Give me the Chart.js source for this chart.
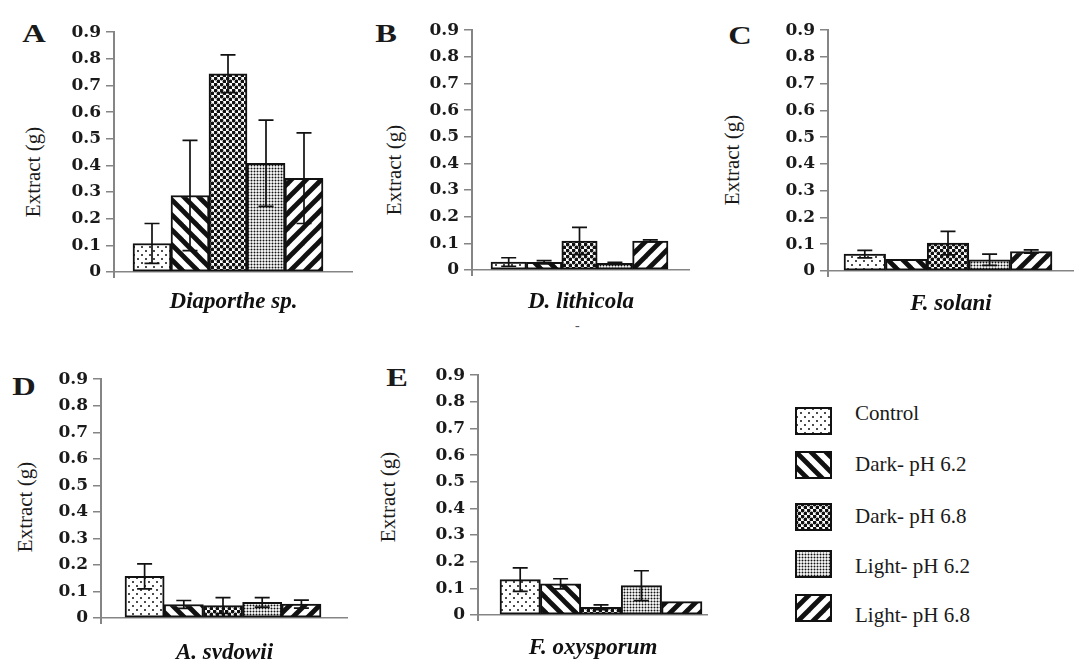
<!DOCTYPE html>
<html lang="en">
<head>
<meta charset="utf-8">
<title>Extract (g)</title>
<script src="https://cdn.jsdelivr.net/npm/chart.js@4.4.1/dist/chart.umd.min.js"></script>
<style>
  body { margin: 0; background: #fff; }
  #figura { position: relative; width: 1074px; height: 659px; overflow: hidden; font-family: "Liberation Serif", serif; color: #1a1a1a; }
  #figura canvas { position: absolute; }
  .letra { position: absolute; font-weight: bold; font-size: 25px; line-height: 1; transform: translate(-50%, -50%) scaleX(1.3); }
  .rotuloY { position: absolute; font-size: 21px; line-height: 1; white-space: nowrap; transform: translate(-50%, -50%) rotate(-90deg); }
  .textoLegenda { position: absolute; left: 855px; font-size: 21px; line-height: 21px; white-space: nowrap; }
  .traco { position: absolute; left: 575px; top: 318px; font-size: 14px; color: #555; }
</style>
</head>
<body>
<div id="figura"></div>
<script>
// Condições de cultivo e fungos
const condicoes = ['Control', 'Dark- pH 6.2', 'Dark- pH 6.8', 'Light- pH 6.2', 'Light- pH 6.8'];
const especies = ['Diaporthe sp.', 'D. lithicola', 'F. solani', 'A. sydowii', 'F. oxysporum'];
const letras = ['A', 'B', 'C', 'D', 'E'];

// Eixo Y
const ticksY = [0, 0.1, 0.2, 0.3, 0.4, 0.5, 0.6, 0.7, 0.8, 0.9];
const rotulosY = ['0', '0.1', '0.2', '0.3', '0.4', '0.5', '0.6', '0.7', '0.8', '0.9'];

// Extrato (g) e desvio de cada fungo, na ordem das condições
const extratoA = [0.107, 0.287, 0.744, 0.408, 0.352];
const erroA = [0.075, 0.207, 0.071, 0.162, 0.170];
const extratoB = [0.030, 0.029, 0.109, 0.025, 0.109];
const erroB = [0.016, 0.006, 0.051, 0.004, 0.004];
const extratoC = [0.063, 0.044, 0.104, 0.042, 0.073];
const erroC = [0.014, 0, 0.044, 0.021, 0.006];
const extratoD = [0.157, 0.051, 0.047, 0.059, 0.052];
const erroD = [0.047, 0.015, 0.030, 0.018, 0.015];
const extratoE = [0.133, 0.117, 0.029, 0.110, 0.050];
const erroE = [0.044, 0.019, 0.009, 0.056, 0];

const extratos = [extratoA, extratoB, extratoC, extratoD, extratoE];
const erros = [erroA, erroB, erroC, erroD, erroE];

// Posição de cada painel na página
const paineis = [
  { eixoX: 114, topo: 32, base: 272, barraIni: 133, barraFim: 323, eixoFim: 353, tituloY: 302, rotulo: [33, 172], letra: [34, 33] },
  { eixoX: 472, topo: 30, base: 270, barraIni: 491, barraFim: 668, eixoFim: 690, tituloY: 302, rotulo: [394, 170], letra: [386, 33] },
  { eixoX: 828, topo: 30, base: 271, barraIni: 844, barraFim: 1052, eixoFim: 1074, tituloY: 304, rotulo: [732, 160], letra: [740, 35] },
  { eixoX: 101, topo: 379, base: 618, barraIni: 125, barraFim: 321, eixoFim: 348, tituloY: 653, rotulo: [25, 507], letra: [24, 386] },
  { eixoX: 478, topo: 375, base: 615, barraIni: 500, barraFim: 702, eixoFim: 708, tituloY: 648, rotulo: [388, 497], letra: [397, 377] }
];

const LARG_Y = 50;
const PAD_TOPO = 15;
const TAM_TITULO = 23;
const FONTE_TICK = '"DejaVu Serif", serif';
const FONTE_TITULO = '"Liberation Serif", serif';
const COR_EIXO = '#858585';
const figura = document.getElementById('figura');

// Texturas das barras (pontos, listras, etc.)
function padrao(tipo) {
  const tam = { pontos: 8, listraDesc: 15, pedras: 6, pontilhado: 3, listraAsc: 15 }[tipo];
  const t = document.createElement('canvas');
  t.width = t.height = tam;
  const c = t.getContext('2d');
  c.fillStyle = '#fff';
  c.fillRect(0, 0, tam, tam);
  c.fillStyle = '#111';
  c.strokeStyle = '#111';
  const ponto = (x, y, r) => { c.beginPath(); c.arc(x, y, r, 0, Math.PI * 2); c.fill(); };
  if (tipo === 'pontos') {
    ponto(2, 2, 1); ponto(6, 6, 1);
  } else if (tipo === 'pedras') {
    ponto(1.5, 1.5, 1.9); ponto(4.5, 4.5, 1.9);
  } else if (tipo === 'pontilhado') {
    ponto(1.5, 1.5, 1);
  } else {
    c.lineWidth = 4.8;
    for (const d of [-tam, 0, tam]) {
      c.beginPath();
      if (tipo === 'listraDesc') { c.moveTo(d - 2, -2); c.lineTo(d + tam + 2, tam + 2); }
      else { c.moveTo(d - 2, tam + 2); c.lineTo(d + tam + 2, -2); }
      c.stroke();
    }
  }
  return c.createPattern(t, 'repeat');
}
const padroes = ['pontos', 'listraDesc', 'pedras', 'pontilhado', 'listraAsc'].map(padrao);

// Barras de erro (com traço em cima e embaixo)
const barrasErro = {
  id: 'barrasErro',
  afterDatasetsDraw(chart) {
    const { ctx, scales: { y } } = chart;
    chart.data.datasets.forEach((ds, d) => {
      chart.getDatasetMeta(d).data.forEach((barra, i) => {
        const e = ds.erros[i];
        if (!e) return;
        const v = ds.data[i].y;
        const yCima = y.getPixelForValue(v + e);
        const yBaixo = y.getPixelForValue(v - e);
        ctx.save();
        ctx.strokeStyle = '#111';
        ctx.lineWidth = 1.7;
        ctx.beginPath();
        ctx.moveTo(barra.x, yCima); ctx.lineTo(barra.x, yBaixo);
        ctx.moveTo(barra.x - 7.5, yCima); ctx.lineTo(barra.x + 7.5, yCima);
        ctx.moveTo(barra.x - 7.5, yBaixo); ctx.lineTo(barra.x + 7.5, yBaixo);
        ctx.stroke();
        ctx.restore();
      });
    });
  },
  afterDraw(chart) {
    // eixo Y passa um pouco abaixo do zero
    const { ctx, chartArea } = chart;
    ctx.save();
    ctx.strokeStyle = COR_EIXO;
    ctx.lineWidth = 2;
    ctx.beginPath();
    ctx.moveTo(chartArea.left, chartArea.bottom);
    ctx.lineTo(chartArea.left, chartArea.bottom + 6);
    ctx.stroke();
    ctx.restore();
  }
};

paineis.forEach((p, k) => {
  const esq = p.eixoX - LARG_Y;
  const topoCanvas = p.topo - PAD_TOPO;
  const altura = Math.round(p.tituloY + TAM_TITULO * 0.6 - topoCanvas);
  const canvas = document.createElement('canvas');
  canvas.width = p.eixoFim - esq;
  canvas.height = altura;
  canvas.style.left = esq + 'px';
  canvas.style.top = topoCanvas + 'px';
  figura.appendChild(canvas);

  const larguraBarra = (p.barraFim - p.barraIni) / condicoes.length;

  new Chart(canvas, {
    type: 'bar',
    data: {
      datasets: [{
        label: especies[k],
        data: extratos[k].map((v, i) => ({ x: i + 1, y: v })),
        erros: erros[k],
        backgroundColor: padroes,
        borderColor: '#111',
        borderWidth: 2,
        borderSkipped: false,
        barThickness: larguraBarra
      }]
    },
    options: {
      responsive: false,
      animation: false,
      layout: { padding: { top: PAD_TOPO, right: 0, bottom: 0, left: 0 } },
      plugins: { legend: { display: false }, tooltip: { enabled: false } },
      scales: {
        x: {
          type: 'linear',
          offset: false,
          min: 0.5 - (p.barraIni - p.eixoX) / larguraBarra,
          max: condicoes.length + 0.5 + (p.eixoFim - p.barraFim) / larguraBarra,
          ticks: { display: false },
          grid: { display: false },
          border: { color: COR_EIXO, width: 1.5 },
          title: {
            display: true,
            text: especies[k],
            color: '#111',
            padding: 0,
            font: { family: FONTE_TITULO, size: TAM_TITULO, weight: 'bold', style: 'italic' }
          },
          afterFit: s => { s.height = topoCanvas + altura - p.base; }
        },
        y: {
          min: 0,
          max: 0.9,
          afterBuildTicks: s => { s.ticks = ticksY.map(v => ({ value: v })); },
          ticks: {
            callback: (v, i) => rotulosY[i],
            color: '#1a1a1a',
            padding: 5,
            font: { family: FONTE_TICK, size: 17, weight: 'bold' }
          },
          grid: { drawOnChartArea: false, drawTicks: true, tickLength: 8, color: COR_EIXO, lineWidth: 1.5 },
          border: { color: COR_EIXO, width: 2 },
          afterFit: s => { s.width = LARG_Y; }
        }
      }
    },
    plugins: [barrasErro]
  });

  // letra do painel e rótulo do eixo Y
  const letra = document.createElement('div');
  letra.className = 'letra';
  letra.textContent = letras[k];
  letra.style.left = p.letra[0] + 'px';
  letra.style.top = p.letra[1] + 'px';
  figura.appendChild(letra);

  const rotulo = document.createElement('div');
  rotulo.className = 'rotuloY';
  rotulo.textContent = 'Extract (g)';
  rotulo.style.left = p.rotulo[0] + 'px';
  rotulo.style.top = p.rotulo[1] + 'px';
  figura.appendChild(rotulo);
});

// Legenda
const caixasTopo = [407, 451, 503, 550, 594];
const textosMeio = [414, 465, 517, 567, 616];
condicoes.forEach((nome, i) => {
  const caixa = document.createElement('canvas');
  caixa.width = 37;
  caixa.height = 28;
  caixa.style.left = '795px';
  caixa.style.top = caixasTopo[i] + 'px';
  const c = caixa.getContext('2d');
  c.fillStyle = padroes[i];
  c.fillRect(0, 0, 37, 28);
  c.strokeStyle = '#111';
  c.lineWidth = 2;
  c.strokeRect(1, 1, 35, 26);
  figura.appendChild(caixa);

  const texto = document.createElement('div');
  texto.className = 'textoLegenda';
  texto.textContent = nome;
  texto.style.top = (textosMeio[i] - 11) + 'px';
  figura.appendChild(texto);
});

const traco = document.createElement('div');
traco.className = 'traco';
traco.textContent = '-';
figura.appendChild(traco);
</script>
</body>
</html>
